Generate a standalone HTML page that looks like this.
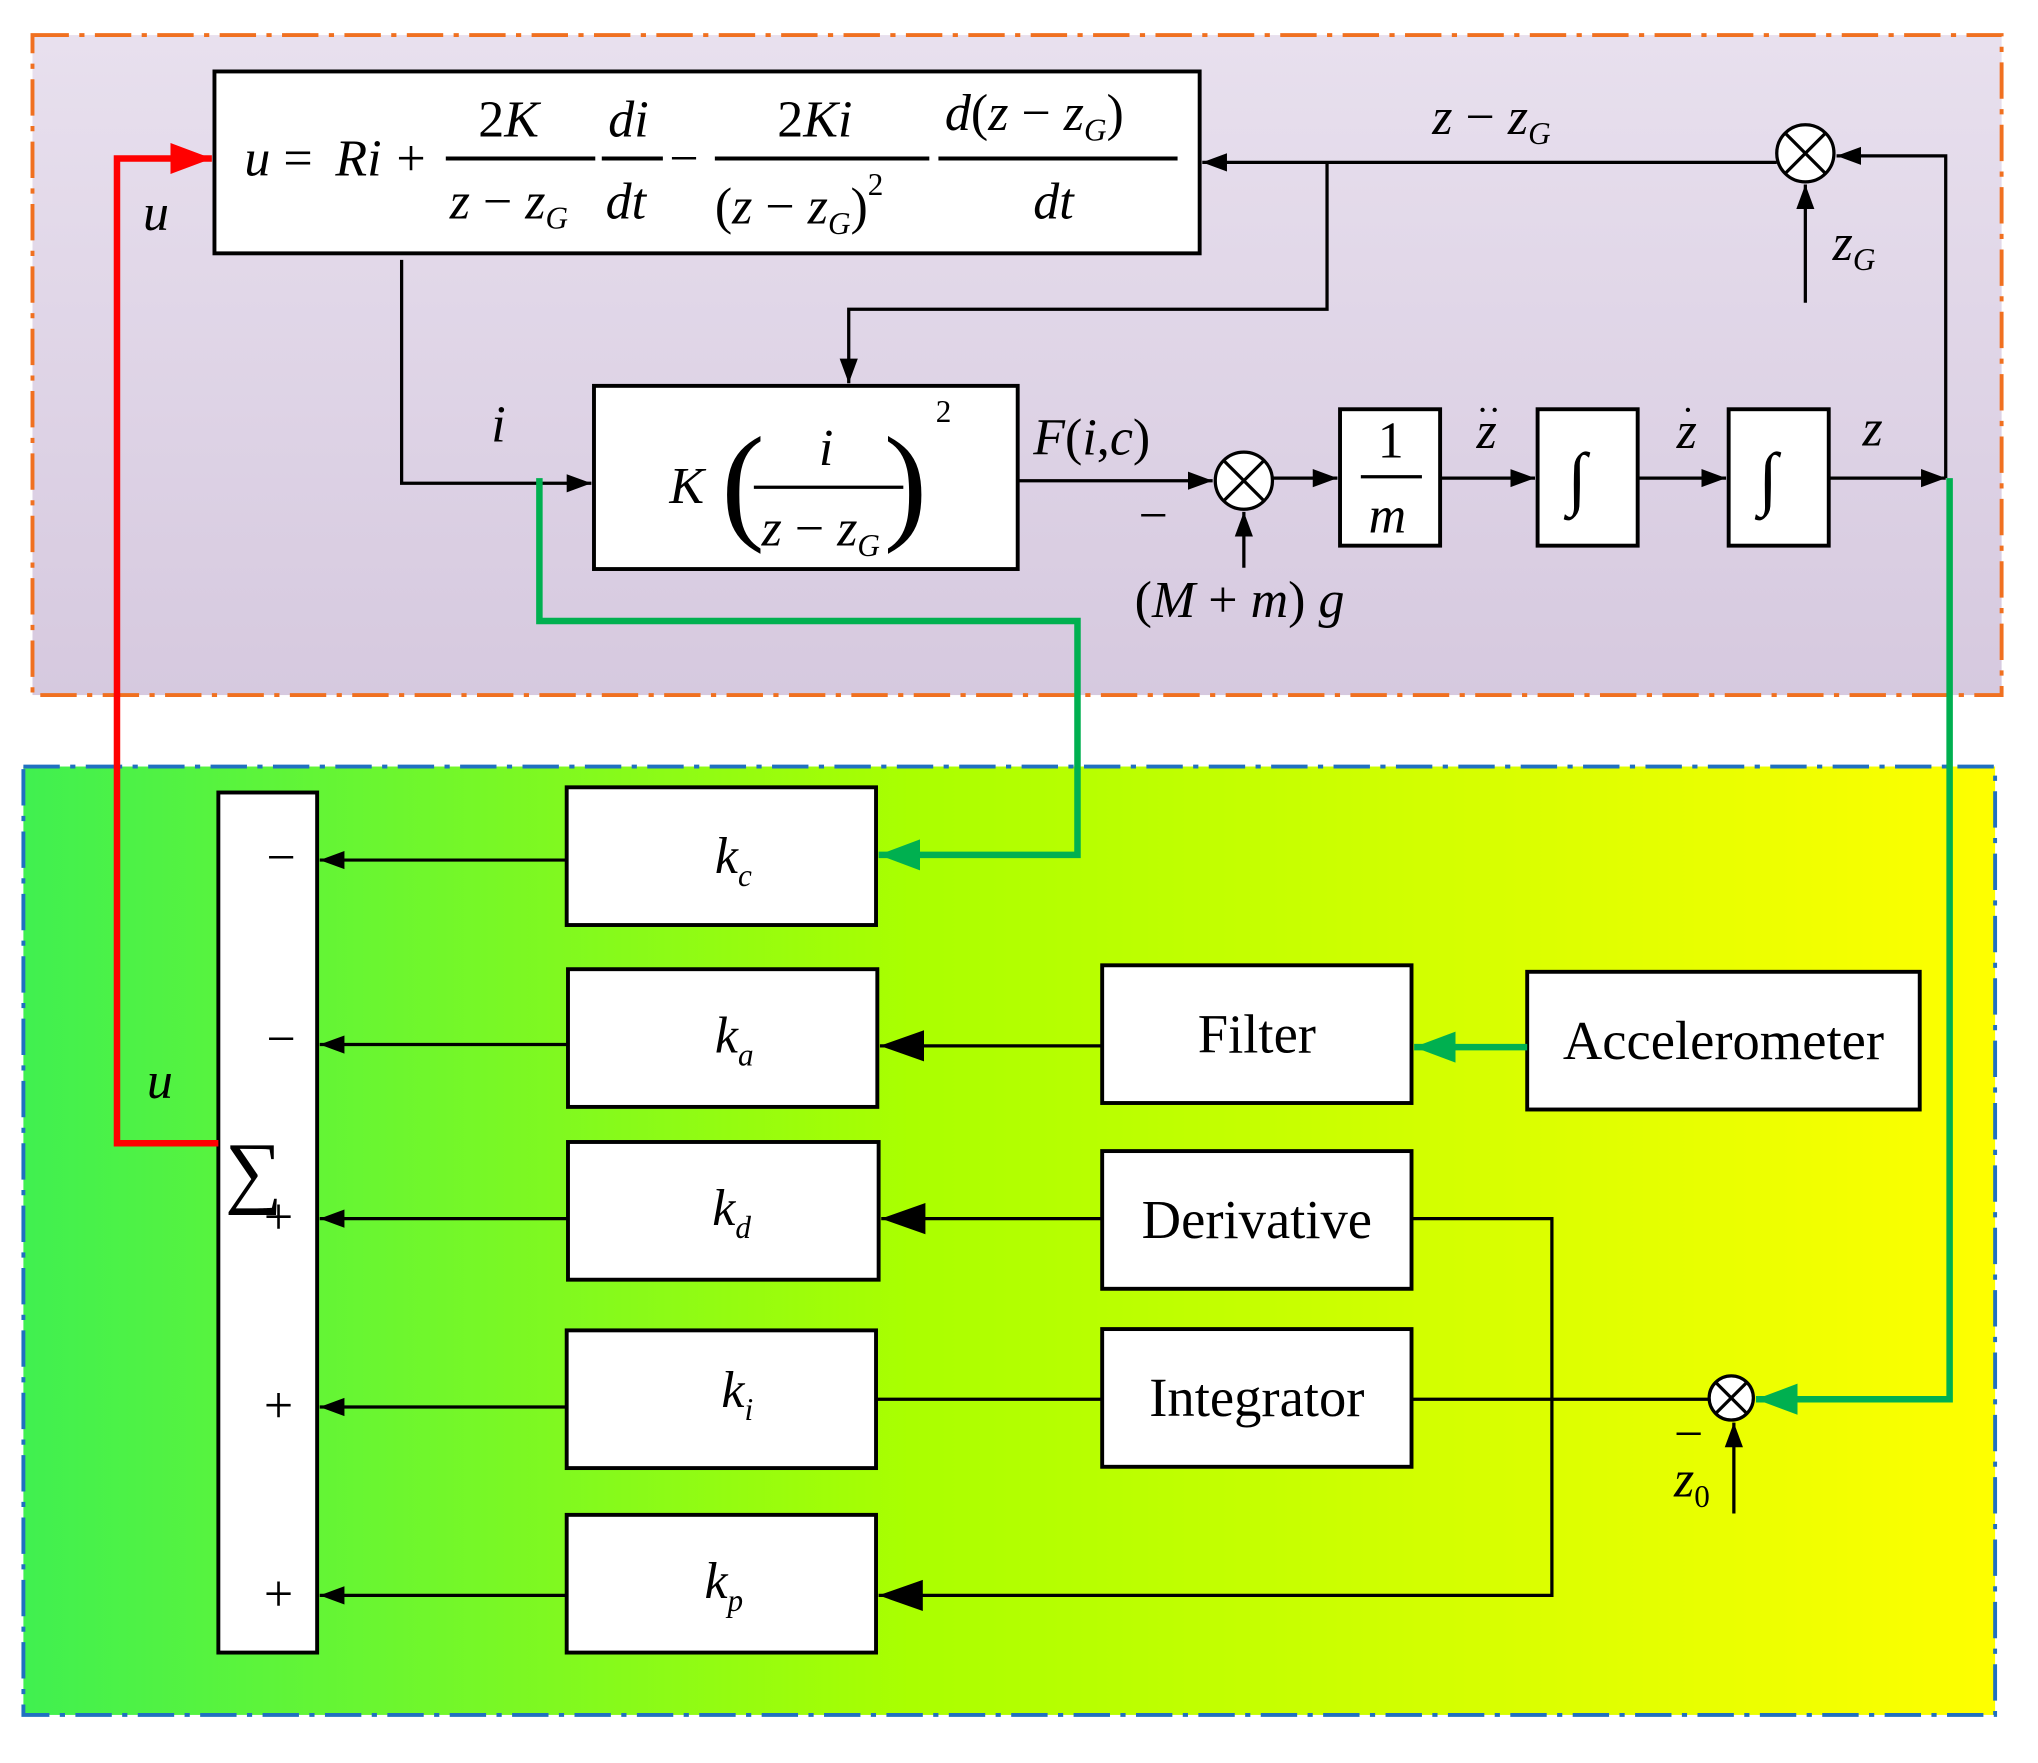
<!DOCTYPE html>
<html><head><meta charset="utf-8"><style>
html,body{margin:0;padding:0;background:#fff}
svg{display:block}
text{font-family:"Liberation Serif",serif;fill:#000}
.i{font-style:italic}
</style></head><body>
<svg width="2038" height="1763" viewBox="0 0 1568 1357" preserveAspectRatio="none" xmlns="http://www.w3.org/2000/svg">
<defs>
<linearGradient id="gt" x1="0" y1="0" x2="0" y2="1"><stop offset="0" stop-color="#e8e0ee"/><stop offset="1" stop-color="#d6c9df"/></linearGradient>
<linearGradient id="gb" x1="0" y1="0" x2="1" y2="0"><stop offset="0" stop-color="#40f050"/><stop offset="0.45" stop-color="#aaff00"/><stop offset="1" stop-color="#ffff00"/></linearGradient>
<marker id="a" markerWidth="20" markerHeight="16" refX="19" refY="8" orient="auto" markerUnits="userSpaceOnUse"><path d="M0,1 L19,8 L0,15z" fill="#000"/></marker>
<marker id="ab" markerWidth="36" markerHeight="26" refX="34" refY="13" orient="auto" markerUnits="userSpaceOnUse"><path d="M0,1 L34,13 L0,25z" fill="#000"/></marker>
<marker id="ag" markerWidth="34" markerHeight="30" refX="32" refY="15" orient="auto" markerUnits="userSpaceOnUse"><path d="M0,3 L32,15 L0,27z" fill="#00b050"/></marker>
<marker id="ar" markerWidth="34" markerHeight="30" refX="32" refY="15" orient="auto" markerUnits="userSpaceOnUse"><path d="M0,3 L32,15 L0,27z" fill="#f00"/></marker>
</defs>
<rect x="25" y="27" width="1515" height="508" fill="url(#gt)" stroke="#f07020" stroke-width="3" stroke-dasharray="28,8,4,8"/>
<rect x="18" y="590" width="1517" height="730" fill="url(#gb)" stroke="#2070c0" stroke-width="3" stroke-dasharray="28,8,4,8"/>
<g fill="#fff" stroke="#000" stroke-width="3">
<rect x="165" y="55" width="758" height="140"/>
<rect x="457" y="297" width="326" height="141"/>
<rect x="1031" y="315" width="77" height="105"/>
<rect x="1183" y="315" width="77" height="105"/>
<rect x="1330" y="315" width="77" height="105"/>
<rect x="168" y="610" width="76" height="662"/>
<rect x="436" y="606" width="238" height="106"/>
<rect x="437" y="746" width="238" height="106"/>
<rect x="437" y="879" width="239" height="106"/>
<rect x="436" y="1024" width="238" height="106"/>
<rect x="436" y="1166" width="238" height="106"/>
<rect x="848" y="743" width="238" height="106"/>
<rect x="1175" y="748" width="302" height="106"/>
<rect x="848" y="886" width="238" height="106"/>
<rect x="848" y="1023" width="238" height="106"/>
</g>
<g fill="#fff" stroke="#000" stroke-width="2.5">
<circle cx="1389" cy="118" r="22"/><path d="M1373,102 L1405,134 M1405,102 L1373,134"/>
<circle cx="957" cy="370" r="22"/><path d="M941,354 L973,386 M973,354 L941,386"/>
<circle cx="1332" cy="1076" r="17"/><path d="M1320,1064 L1344,1088 M1344,1064 L1320,1088"/>
</g>
<g fill="none" stroke="#000" stroke-width="2.5">
<path d="M1367,125 L925,125" marker-end="url(#a)"/>
<path d="M1021,125 L1021,238 L653,238 L653,295" marker-end="url(#a)"/>
<path d="M1407,368 L1497,368" marker-end="url(#a)"/>
<path d="M1497,368 L1497,120 L1413,120" marker-end="url(#a)"/>
<path d="M1389,233 L1389,142" marker-end="url(#a)"/>
<path d="M309,200 L309,372 L455,372" marker-end="url(#a)"/>
<path d="M783,370 L933,370" marker-end="url(#a)"/>
<path d="M979,368 L1029,368" marker-end="url(#a)"/>
<path d="M957,437 L957,394" marker-end="url(#a)"/>
<path d="M1108,368 L1181,368" marker-end="url(#a)"/>
<path d="M1260,368 L1328,368" marker-end="url(#a)"/>
<path d="M436,662 L246,662" marker-end="url(#a)"/>
<path d="M437,804 L246,804" marker-end="url(#a)"/>
<path d="M437,938 L246,938" marker-end="url(#a)"/>
<path d="M436,1083 L246,1083" marker-end="url(#a)"/>
<path d="M436,1228 L246,1228" marker-end="url(#a)"/>
<path d="M848,805 L677,805" marker-end="url(#ab)"/>
<path d="M848,938 L678,938" marker-end="url(#ab)"/>
<path d="M848,1077 L674,1077"/>
<path d="M1315,1077 L1086,1077"/>
<path d="M1086,938 L1194,938 L1194,1228 L676,1228" marker-end="url(#ab)"/>
<path d="M1334,1165 L1334,1095" marker-end="url(#a)"/>
</g>
<g fill="none" stroke="#00b050" stroke-width="5">
<path d="M415,368 L415,478 L829,478 L829,658 L676,658" marker-end="url(#ag)"/>
<path d="M1500,368 L1500,1077 L1351,1077" marker-end="url(#ag)"/>
<path d="M1175,806 L1088,806" marker-end="url(#ag)"/>
</g>
<path d="M168,880 L90,880 L90,122 L163,122" fill="none" stroke="#f00" stroke-width="5" marker-end="url(#ar)"/>
<g font-size="40">
<text x="188" y="135" class="i">u</text><text x="218" y="135">=</text><text x="258" y="135" class="i">Ri</text><text x="305" y="135">+</text>
<line x1="343" y1="122" x2="458" y2="122" stroke="#000" stroke-width="3"/>
<text x="368" y="105">2<tspan class="i">K</tspan></text>
<text x="346" y="168" class="i">z<tspan font-style="normal"> − </tspan>z<tspan font-size="24" dy="8">G</tspan></text>
<line x1="463" y1="122" x2="510" y2="122" stroke="#000" stroke-width="3"/>
<text x="468" y="105" class="i">di</text><text x="466" y="168" class="i">dt</text>
<text x="515" y="135">−</text>
<line x1="550" y1="122" x2="715" y2="122" stroke="#000" stroke-width="3"/>
<text x="598" y="105">2<tspan class="i">Ki</tspan></text>
<text x="550" y="172">(<tspan class="i">z</tspan> − <tspan class="i">z</tspan><tspan font-size="24" dy="8" class="i">G</tspan><tspan dy="-8">)</tspan><tspan font-size="24" dy="-22">2</tspan></text>
<line x1="722" y1="122" x2="906" y2="122" stroke="#000" stroke-width="3"/>
<text x="727" y="100"><tspan class="i">d</tspan>(<tspan class="i">z</tspan> − <tspan class="i">z</tspan><tspan font-size="24" dy="8" class="i">G</tspan><tspan dy="-8">)</tspan></text>
<text x="795" y="168" class="i">dt</text>
<text x="515" y="387" class="i">K</text>
<text x="555" y="405" font-size="100">(</text><text x="680" y="405" font-size="100">)</text>
<text x="720" y="325" font-size="24">2</text>
<line x1="580" y1="375" x2="695" y2="375" stroke="#000" stroke-width="2.5"/>
<text x="630" y="358" class="i">i</text>
<text x="586" y="420" class="i">z<tspan font-style="normal"> − </tspan>z<tspan font-size="24" dy="8">G</tspan></text>
<text x="1060" y="352">1</text><line x1="1047" y1="367" x2="1094" y2="367" stroke="#000" stroke-width="2.5"/><text x="1053" y="410" class="i">m</text>
<text x="1206" y="386" font-size="54">∫</text><text x="1353" y="386" font-size="54">∫</text>
<text x="1102" y="103" class="i">z<tspan font-style="normal"> − </tspan>z<tspan font-size="24" dy="8">G</tspan></text>
<text x="1410" y="200" class="i">z<tspan font-size="24" dy="8">G</tspan></text>
<text x="378" y="340" class="i">i</text>
<text x="795" y="350"><tspan class="i">F</tspan>(<tspan class="i">i</tspan>,<tspan class="i">c</tspan>)</text>
<text x="876" y="410">−</text>
<text x="873" y="475">(<tspan class="i">M</tspan> + <tspan class="i">m</tspan>)<tspan class="i"> g</tspan></text>
<text x="1136" y="345" class="i">z</text><text x="1136" y="325" font-size="28">··</text>
<text x="1290" y="345" class="i">z</text><text x="1294" y="325" font-size="28">·</text>
<text x="1433" y="343" class="i">z</text>
<text x="110" y="177" class="i">u</text>
<text x="113" y="845" class="i">u</text>
<text x="205" y="673">−</text><text x="205" y="813">−</text>
<text x="203" y="950">+</text><text x="203" y="1095">+</text><text x="203" y="1240">+</text>
<text x="173" y="922" font-size="62">∑</text>
<text x="550" y="672" class="i">k<tspan font-size="24" dy="10">c</tspan></text>
<text x="550" y="810" class="i">k<tspan font-size="24" dy="10">a</tspan></text>
<text x="548" y="943" class="i">k<tspan font-size="24" dy="10">d</tspan></text>
<text x="555" y="1083" class="i">k<tspan font-size="24" dy="10">i</tspan></text>
<text x="542" y="1230" class="i">k<tspan font-size="24" dy="10">p</tspan></text>
<text x="967" y="810" text-anchor="middle" font-size="42">Filter</text>
<text x="1326" y="815" text-anchor="middle" font-size="42">Accelerometer</text>
<text x="967" y="953" text-anchor="middle" font-size="42">Derivative</text>
<text x="967" y="1090" text-anchor="middle" font-size="42">Integrator</text>
<text x="1288" y="1117">−</text>
<text x="1288" y="1152" class="i">z<tspan font-style="normal" font-size="24" dy="8">0</tspan></text>
</g>
</svg>
</body></html>
